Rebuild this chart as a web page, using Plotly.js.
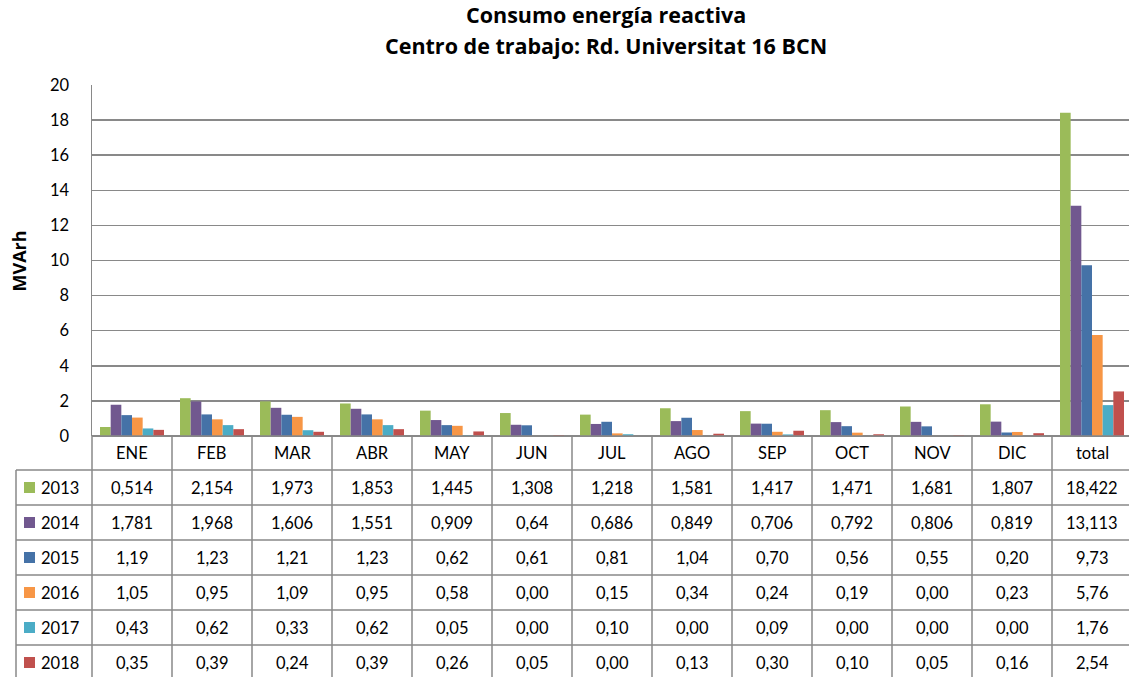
<!DOCTYPE html>
<html>
<head>
<meta charset="utf-8">
<script src="https://cdn.plot.ly/plotly-3.0.1.min.js"></script>
<style>html,body{margin:0;padding:0;background:#fff;}#chart{width:1129px;height:677px;}</style>
</head>
<body>
<div id="chart"></div>
<script>
// ---- data ----
const categories = ["ENE","FEB","MAR","ABR","MAY","JUN","JUL","AGO","SEP","OCT","NOV","DIC","total"];
const seriesNames = ["2013","2014","2015","2016","2017","2018"];
const v2013 = [0.514,2.154,1.973,1.853,1.445,1.308,1.218,1.581,1.417,1.471,1.681,1.807,18.422];
const v2014 = [1.781,1.968,1.606,1.551,0.909,0.64,0.686,0.849,0.706,0.792,0.806,0.819,13.113];
const v2015 = [1.19,1.23,1.21,1.23,0.62,0.61,0.81,1.04,0.70,0.56,0.55,0.20,9.73];
const v2016 = [1.05,0.95,1.09,0.95,0.58,0.00,0.15,0.34,0.24,0.19,0.00,0.23,5.76];
const v2017 = [0.43,0.62,0.33,0.62,0.05,0.00,0.10,0.00,0.09,0.00,0.00,0.00,1.76];
const v2018 = [0.35,0.39,0.24,0.39,0.26,0.05,0.00,0.13,0.30,0.10,0.05,0.16,2.54];
const yTicks = [0,2,4,6,8,10,12,14,16,18,20];
const titleLines = ["Consumo energía reactiva", "Centro de trabajo: Rd. Universitat 16 BCN"];
const yTitle = "MVArh";

// ---- style ----
const seriesValues = [v2013,v2014,v2015,v2016,v2017,v2018];
const seriesDecimals = [null,null,2,2,2,2];
const colors = ['#9BBB59','#71588F','#4572A7','#F79646','#4BACC6','#C0504D'];
const FONT = 'Lato, "Open Sans", sans-serif';
const TFONT = '"Open Sans", Lato, sans-serif';
const W = 1129, H = 677;
const plotL = 92, plotT = 85, plotB = 436;
const colW = 80;
const gridCol = '#898989';
const px = x => x / W;
const py = y => 1 - y / H;

function fmt(v, d) {
  const s = d === null ? String(v) : v.toFixed(d);
  return s.replace('.', ',');
}

const traces = seriesNames.map((n, i) => ({
  type: 'bar', name: n, x: categories, y: seriesValues[i],
  marker: {color: colors[i], line: {width: 0}}, hoverinfo: 'x+y+name'
}));

const shapes = [];
const annotations = [];
const lineStyle = {color: gridCol, width: 1.5};

// table geometry
const headerTop = plotB, rowTop0 = 470, rowH = 35;
const tableBottom = H + 5;
const legL = 16;

// horizontal lines
shapes.push({type:'line', xref:'paper', yref:'paper', x0:px(plotL), x1:1, y0:py(headerTop), y1:py(headerTop), line:lineStyle});
for (let r = 0; r < seriesNames.length; r++) {
  const y = rowTop0 + r * rowH;
  shapes.push({type:'line', xref:'paper', yref:'paper', x0:px(legL), x1:1, y0:py(y), y1:py(y), line:lineStyle});
}
// vertical lines
shapes.push({type:'line', xref:'paper', yref:'paper', x0:px(legL), x1:px(legL), y0:py(rowTop0), y1:py(tableBottom), line:lineStyle});
shapes.push({type:'line', xref:'paper', yref:'paper', x0:px(plotL), x1:px(plotL), y0:py(headerTop), y1:py(tableBottom), line:lineStyle});
for (let i = 1; i < categories.length; i++) {
  shapes.push({type:'line', xref:'x', yref:'paper', x0:i-0.5, x1:i-0.5, y0:py(headerTop), y1:py(tableBottom), line:lineStyle});
}

// header labels
categories.forEach(c => {
  annotations.push({xref:'x', yref:'paper', x:c, y:py((headerTop + rowTop0) / 2), text:c, showarrow:false,
    xanchor:'center', yanchor:'middle', font:{family:FONT, size:16.5, color:'#000'}});
});

// rows
seriesNames.forEach((n, r) => {
  const yc = rowTop0 + r * rowH + rowH / 2;
  shapes.push({type:'rect', xref:'paper', yref:'paper', x0:px(24), x1:px(35), y0:py(yc - 5.5), y1:py(yc + 5.5),
    fillcolor:colors[r], line:{width:0}});
  annotations.push({xref:'paper', yref:'paper', x:px(39), y:py(yc), text:n, showarrow:false,
    xanchor:'left', yanchor:'middle', font:{family:FONT, size:16.5, color:'#000'}});
  categories.forEach((c, i) => {
    annotations.push({xref:'x', yref:'paper', x:c, y:py(yc), text:fmt(seriesValues[r][i], seriesDecimals[r]),
      showarrow:false, xanchor:'center', yanchor:'middle', font:{family:FONT, size:16.5, color:'#000'}});
  });
});

// y axis title
annotations.push({xref:'paper', yref:'paper', x:px(18.5), y:py(261), text:'<b>' + yTitle + '</b>', textangle:-90,
  showarrow:false, xanchor:'center', yanchor:'middle', font:{family:TFONT, size:18, color:'#000'}});

// title (two lines)
[15, 45.5].forEach((yy, k) => {
  annotations.push({xref:'paper', yref:'paper', x:px(606), y:py(yy), text:'<b>' + titleLines[k] + '</b>',
    showarrow:false, xanchor:'center', yanchor:'middle', font:{family:TFONT, size:21.5, color:'#000'}});
});

const xEnd = -0.5 + (W - plotL) / colW;

const layout = {
  width: W, height: H,
  margin: {l:0, r:0, t:0, b:0, pad:0},
  paper_bgcolor: '#fff', plot_bgcolor: '#fff',
  showlegend: false,
  barmode: 'group', bargap: 0.2, bargroupgap: 0,
  xaxis: {domain:[px(plotL), 1], range:[-0.5, xEnd], showticklabels:false, ticks:'', showgrid:false,
    showline:false, zeroline:false, fixedrange:true},
  yaxis: {domain:[py(plotB), py(plotT)], range:[0,20], tickvals:yTicks, ticktext:yTicks.map(String),
    showgrid:true, gridcolor:gridCol, gridwidth:1.5, zeroline:true, zerolinecolor:gridCol, zerolinewidth:1.5,
    showline:true, linecolor:gridCol, linewidth:1.5, ticks:'', ticklabelstandoff:18,
    tickfont:{family:FONT, size:16.5, color:'#000'}, fixedrange:true},
  shapes: shapes,
  annotations: annotations,
  font: {family: FONT}
};

Plotly.newPlot('chart', traces, layout, {displayModeBar:false, staticPlot:true});
</script>
</body>
</html>
